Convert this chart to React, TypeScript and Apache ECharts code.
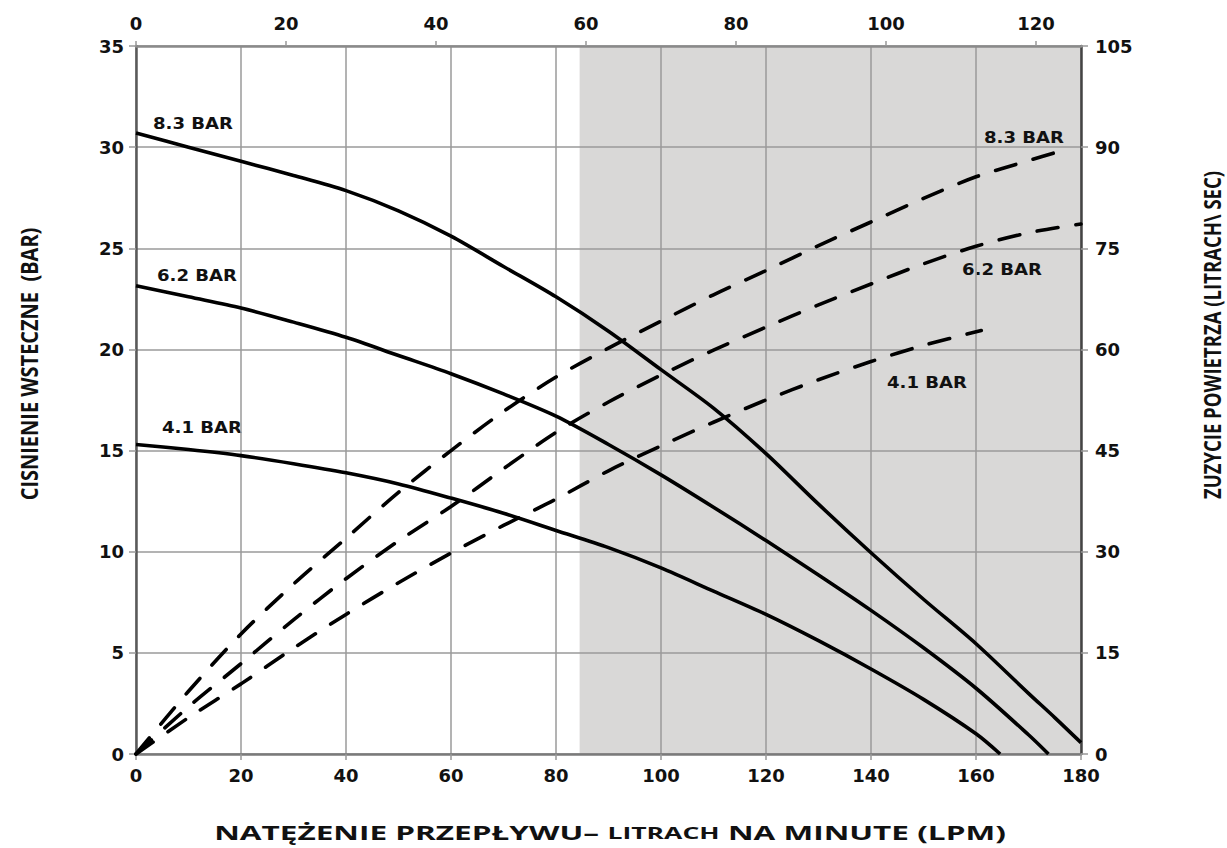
import React, { useEffect, useRef } from "react";
import * as echarts from "echarts";

// Flow (LPM) on the bottom axis
const flowLpm83 = [0, 10, 20, 30, 40, 50, 60, 70, 80, 90, 100, 110, 120, 130, 140, 150, 160, 170, 175, 180];
const pressure83 = [30.7, 30.0, 29.3, 28.6, 27.85, 26.85, 25.6, 24.1, 22.6, 20.9, 19.0, 17.1, 14.85, 12.35, 9.95, 7.65, 5.45, 3.0, 1.8, 0.56];

const flowLpm62 = [0, 10, 20, 30, 40, 50, 60, 70, 80, 90, 100, 110, 120, 130, 140, 150, 160, 170, 173.8];
const pressure62 = [23.15, 22.6, 22.05, 21.35, 20.6, 19.7, 18.8, 17.8, 16.7, 15.3, 13.8, 12.2, 10.55, 8.85, 7.1, 5.25, 3.25, 0.95, 0];

const flowLpm41 = [0, 10, 20, 30, 40, 50, 60, 70, 80, 90, 100, 110, 120, 130, 140, 150, 160, 164.6];
const pressure41 = [15.3, 15.05, 14.75, 14.35, 13.9, 13.35, 12.65, 11.9, 11.05, 10.2, 9.2, 8.05, 6.9, 5.6, 4.2, 2.7, 1.0, 0];

// Air consumption (right axis)
const airFlow83 = [0, 10, 20, 30, 40, 50, 60, 70, 80, 90, 100, 110, 120, 130, 140, 150, 160, 170, 176];
const air83 = [0, 9.3, 17.8, 25.2, 32, 38.8, 45, 50.8, 55.9, 60.2, 64.2, 68.1, 71.7, 75.4, 78.9, 82.4, 85.6, 88.0, 89.4];

const airFlow62 = [0, 10, 20, 30, 40, 50, 60, 70, 80, 90, 100, 110, 120, 130, 140, 150, 160, 170, 180];
const air62 = [0, 7, 13.4, 19.9, 26, 31.6, 36.7, 42.3, 47.7, 52.2, 56.2, 59.9, 63.3, 66.6, 69.7, 72.7, 75.3, 77.3, 78.6];

const airFlow41 = [0, 10, 20, 30, 40, 50, 60, 70, 80, 90, 100, 110, 120, 130, 140, 150, 161];
const air41 = [0, 5.4, 10.4, 15.7, 20.7, 25.4, 29.8, 33.9, 37.8, 42, 45.7, 49.2, 52.5, 55.5, 58.2, 60.6, 62.8];

const shadedRange = [84.5, 180];

const curveLabels = ["8.3 BAR", "6.2 BAR", "4.1 BAR"];
const leftTitle = "CISNIENIE WSTECZNE  (BAR)";
const rightTitle = "ZUZYCIE POWIETRZA (LITRACH\\ SEC)";
const bottomTitleParts = ["NATĘŻENIE PRZEPŁYWU– ", "LITRACH", " NA MINUTE (LPM)"];

const zip = (xs: number[], ys: number[]) => xs.map((x, i) => [x, ys[i]]);

const TICK_FONT = "DejaVu Sans";
const TITLE_FONT = "Open Sans";

export default function App() {
  const ref = useRef<HTMLDivElement>(null);
  useEffect(() => {
    if (!ref.current) return;
    const chart = echarts.init(ref.current, undefined, { renderer: "svg" });
    const axisLabel = {
      fontFamily: TICK_FONT,
      fontWeight: "bold" as const,
      fontSize: 18,
      color: "#111",
    };
    const solid = (name: string, data: number[][]) => ({
      name,
      type: "line",
      xAxisIndex: 0,
      yAxisIndex: 0,
      data,
      smooth: 0.3,
      showSymbol: false,
      silent: true,
      lineStyle: { color: "#000", width: 3.6 },
      z: 3,
    });
    const dashed = (name: string, data: number[][]) => ({
      name,
      type: "line",
      xAxisIndex: 0,
      yAxisIndex: 1,
      data,
      smooth: 0.3,
      showSymbol: false,
      silent: true,
      lineStyle: { color: "#000", width: 3.6, type: [21, 18], cap: "round" },
      z: 3,
    });
    const labelText = (text: string, x: number, y: number) => ({
      type: "text",
      x,
      y,
      scaleX: 1.13,
      silent: true,
      style: {
        text,
        fontFamily: TICK_FONT,
        fontWeight: "bold",
        fontSize: 16,
        fill: "#111",
        align: "left",
        verticalAlign: "middle",
      },
    });
    chart.setOption({
      animation: false,
      backgroundColor: "#fff",
      grid: { left: 136, right: 146, top: 46, bottom: 94, containLabel: false },
      xAxis: [
        {
          type: "value",
          position: "bottom",
          min: 0,
          max: 180,
          interval: 20,
          axisLine: { show: true, onZero: false, lineStyle: { color: "#7a7a7a", width: 2.5 } },
          axisTick: { show: true, length: 6, lineStyle: { color: "#999", width: 1.5 } },
          axisLabel: { ...axisLabel, margin: 12 },
          splitLine: { show: true, lineStyle: { color: "#9a9a9a", width: 1.5 } },
        },
        {
          type: "value",
          position: "top",
          min: 0,
          max: 126,
          interval: 20,
          axisLine: { show: true, onZero: false, lineStyle: { color: "#8a8a8a", width: 2.5 } },
          axisTick: { show: true, length: 5, lineStyle: { color: "#999", width: 1.5 } },
          axisLabel: {
            ...axisLabel,
            margin: 14,
            showMaxLabel: false,
            formatter: (v: number) => (v % 20 === 0 ? String(v) : ""),
          },
          splitLine: { show: false },
        },
      ],
      yAxis: [
        {
          type: "value",
          position: "left",
          min: 0,
          max: 35,
          interval: 5,
          axisLine: { show: true, onZero: false, lineStyle: { color: "#5a5a5a", width: 2.5 } },
          axisTick: { show: true, length: 7, lineStyle: { color: "#999", width: 1.5 } },
          axisLabel: { ...axisLabel, margin: 12 },
          splitLine: { show: true, lineStyle: { color: "#9a9a9a", width: 1.5 } },
        },
        {
          type: "value",
          position: "right",
          min: 0,
          max: 105,
          interval: 15,
          axisLine: { show: true, onZero: false, lineStyle: { color: "#444", width: 2.5 } },
          axisTick: { show: true, length: 7, lineStyle: { color: "#999", width: 1.5 } },
          axisLabel: { ...axisLabel, margin: 14 },
          splitLine: { show: false },
        },
      ],
      series: [
        {
          name: "shade",
          type: "line",
          xAxisIndex: 0,
          yAxisIndex: 0,
          data: [],
          silent: true,
          z: -1,
          markArea: {
            z: -1,
            silent: true,
            itemStyle: { color: "#d9d8d7" },
            data: [[{ xAxis: shadedRange[0] }, { xAxis: shadedRange[1] }]],
          },
        },
        solid("p83", zip(flowLpm83, pressure83)),
        solid("p62", zip(flowLpm62, pressure62)),
        solid("p41", zip(flowLpm41, pressure41)),
        dashed("a83", zip(airFlow83, air83)),
        dashed("a62", zip(airFlow62, air62)),
        dashed("a41", zip(airFlow41, air41)),
      ],
      graphic: [
        labelText(curveLabels[0], 153, 123),
        labelText(curveLabels[1], 157, 275),
        labelText(curveLabels[2], 162, 427),
        labelText(curveLabels[0], 984, 137),
        labelText(curveLabels[1], 962, 269),
        labelText(curveLabels[2], 887, 382),
        {
          type: "text",
          x: 29,
          y: 364,
          rotation: Math.PI / 2,
          scaleX: 1.11,
          scaleY: 1.3,
          silent: true,
          style: {
            text: leftTitle,
            fontFamily: TITLE_FONT,
            fontWeight: "bold",
            fontSize: 18,
            fill: "#111",
            align: "center",
            verticalAlign: "middle",
          },
        },
        {
          type: "text",
          x: 1212,
          y: 335,
          rotation: Math.PI / 2,
          scaleX: 1.03,
          scaleY: 1.3,
          silent: true,
          style: {
            text: rightTitle,
            fontFamily: TITLE_FONT,
            fontWeight: "bold",
            fontSize: 18,
            fill: "#111",
            align: "center",
            verticalAlign: "middle",
          },
        },
        {
          type: "text",
          x: 610,
          y: 833,
          scaleX: 1.66,
          silent: true,
          style: {
            text: `{a|${bottomTitleParts[0]}}{b|${bottomTitleParts[1]}}{a|${bottomTitleParts[2]}}`,
            fontFamily: TITLE_FONT,
            fontWeight: "bold",
            fill: "#111",
            align: "center",
            verticalAlign: "middle",
            rich: {
              a: { fontFamily: TITLE_FONT, fontWeight: "bold", fontSize: 19, fill: "#111" },
              b: { fontFamily: TITLE_FONT, fontWeight: "bold", fontSize: 16, fill: "#111" },
            },
          },
        },
      ],
    });
    return () => chart.dispose();
  }, []);
  return (
    <div
      ref={ref}
      style={{ position: "fixed", left: 0, top: 0, width: 1227, height: 848 }}
    />
  );
}
